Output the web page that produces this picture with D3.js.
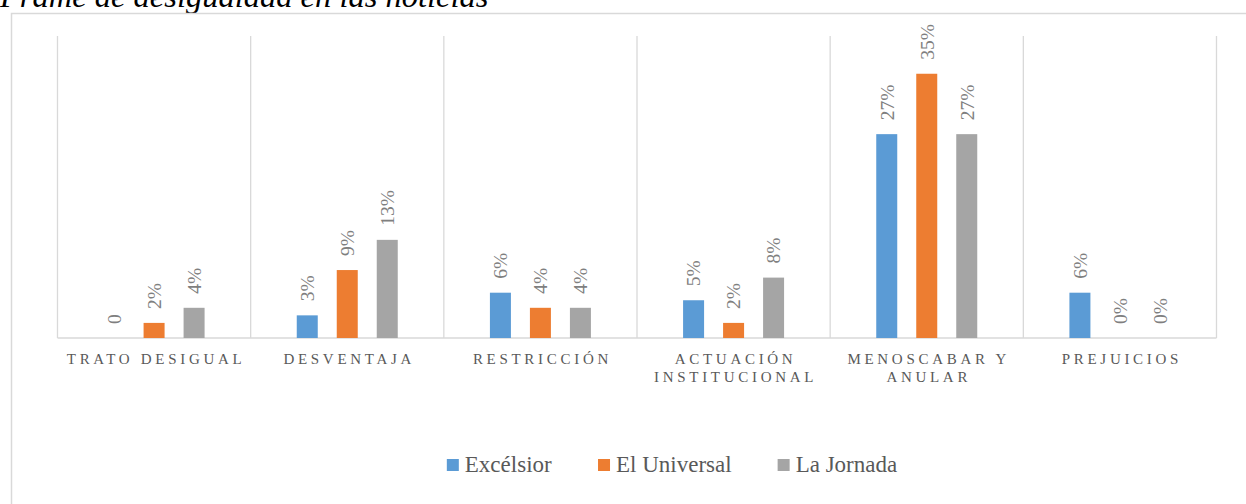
<!DOCTYPE html>
<html>
<head>
<meta charset="utf-8">
<title>Frame de desigualdad en las noticias</title>
<script src="https://cdn.jsdelivr.net/npm/d3@7"></script>
<style>
  body { margin: 0; background: #fff; }
  svg text { font-family: "Liberation Serif", "Times New Roman", serif; }
  .grid line { stroke: #d9d9d9; stroke-width: 1.3; }
  .cat text { fill: #595959; font-size: 15px; letter-spacing: 3.7px; font-family: "Liberation Serif", "Times New Roman", serif; }
  .lbl { fill: #7f7f7f; font-size: 19.5px; font-family: "Liberation Serif", "Times New Roman", serif; }
  .legend text { fill: #595959; font-size: 23px; font-family: "Liberation Serif", "Times New Roman", serif; }
</style>
</head>
<body>
<svg id="chart" width="1246" height="504"></svg>
<script>
// data
const categories = ["TRATO DESIGUAL", "DESVENTAJA", "RESTRICCIÓN", "ACTUACIÓN INSTITUCIONAL", "MENOSCABAR Y ANULAR", "PREJUICIOS"];
const series = ["Excélsior", "El Universal", "La Jornada"];
const excelsior = [0, 0.03, 0.06, 0.05, 0.27, 0.06];
const elUniversal = [0.02, 0.09, 0.04, 0.02, 0.35, 0];
const laJornada = [0.04, 0.13, 0.04, 0.08, 0.27, 0];
const excelsiorLabels = ["0", "3%", "6%", "5%", "27%", "6%"];
const elUniversalLabels = ["2%", "9%", "4%", "2%", "35%", "0%"];
const laJornadaLabels = ["4%", "13%", "4%", "8%", "27%", "0%"];
const colors = ["#5b9bd5", "#ed7d31", "#a5a5a5"];

const values = [excelsior, elUniversal, laJornada];
const labels = [excelsiorLabels, elUniversalLabels, laJornadaLabels];

const svg = d3.select("#chart");

// title, partly cut off at the top like the original
svg.append("text")
  .attr("x", 0).attr("y", 7)
  .attr("font-style", "italic")
  .attr("font-size", 32.5)
  .attr("fill", "#000")
  .text("Frame de desigualdad en las noticias");

// chart frame
svg.append("rect")
  .attr("x", 11.5).attr("y", 13.5)
  .attr("width", 1400).attr("height", 700)
  .attr("fill", "none")
  .attr("stroke", "#d9d9d9")
  .attr("stroke-width", 1.5);

const x = d3.scaleBand().domain(categories).range([57.5, 1216.5]);
const xs = d3.scalePoint().domain(series).range([-40, 40]);
const y = d3.scaleLinear().domain([0, 0.40]).range([338, 36]);
const barW = 21;

// vertical category separators + baseline
const grid = svg.append("g").attr("class", "grid");
const edges = categories.map(c => x(c)).concat([x.range()[1]]);
grid.selectAll("line.v")
  .data(edges)
  .enter().append("line")
  .attr("class", "v")
  .attr("x1", d => d).attr("x2", d => d)
  .attr("y1", y.range()[1]).attr("y2", y(0));
grid.append("line")
  .attr("x1", x.range()[0]).attr("x2", x.range()[1])
  .attr("y1", y(0)).attr("y2", y(0))
  .attr("stroke-width", 2);

// bars
const rows = [];
categories.forEach((c, i) => {
  series.forEach((s, j) => {
    rows.push({ cat: c, ser: s, v: values[j][i], label: labels[j][i], color: colors[j] });
  });
});
const cx = d => x(d.cat) + x.bandwidth() / 2 + xs(d.ser);

svg.append("g").selectAll("rect")
  .data(rows)
  .enter().append("rect")
  .attr("x", d => cx(d) - barW / 2)
  .attr("width", barW)
  .attr("y", d => y(d.v))
  .attr("height", d => y(0) - y(d.v))
  .attr("fill", d => d.color);

// rotated data labels
svg.append("g").selectAll("text")
  .data(rows)
  .enter().append("text")
  .attr("class", "lbl")
  .attr("transform", d => `translate(${cx(d)},${y(d.v) - 14}) rotate(-90)`)
  .attr("dy", "0.35em")
  .attr("text-anchor", "start")
  .text(d => d.label);

// category axis
const axis = svg.append("g")
  .attr("class", "cat")
  .attr("transform", `translate(0,${y(0)})`)
  .call(d3.axisBottom(x).tickSize(0).tickPadding(0));
axis.attr("font-family", null).attr("font-size", null);
axis.select(".domain").remove();
axis.selectAll(".tick text")
  .attr("fill", null)
  .each(function(d) {
    const t = d3.select(this);
    t.text(null).attr("y", 0).attr("dy", null);
    // wrap to the band width
    const words = d.split(" ");
    let lines = [], cur = [];
    const probe = t.append("tspan");
    words.forEach(w => {
      cur.push(w);
      probe.text(cur.join(" "));
      if (probe.node().getComputedTextLength() > x.bandwidth() - 4 && cur.length > 1) {
        cur.pop();
        lines.push(cur.join(" "));
        cur = [w];
      }
    });
    lines.push(cur.join(" "));
    probe.remove();
    lines.forEach((ln, k) => {
      t.append("tspan").attr("x", 2).attr("y", 26 + k * 17.5).text(ln);
    });
  });

// legend
const legend = svg.append("g").attr("class", "legend");
const items = legend.selectAll("g")
  .data(series)
  .enter().append("g");
items.append("rect")
  .attr("width", 12).attr("height", 12)
  .attr("y", -13)
  .attr("fill", (d, i) => colors[i]);
items.append("text")
  .attr("x", 18).attr("y", 0)
  .text(d => d);
let pos = 0;
const gap = 46;
items.each(function() {
  const w = this.getBBox().width;
  d3.select(this).attr("data-x", pos);
  pos += w + gap;
});
const total = pos - gap;
const start = 672 - total / 2;
items.attr("transform", function() {
  return `translate(${start + (+this.getAttribute("data-x"))},472)`;
});
</script>
</body>
</html>
